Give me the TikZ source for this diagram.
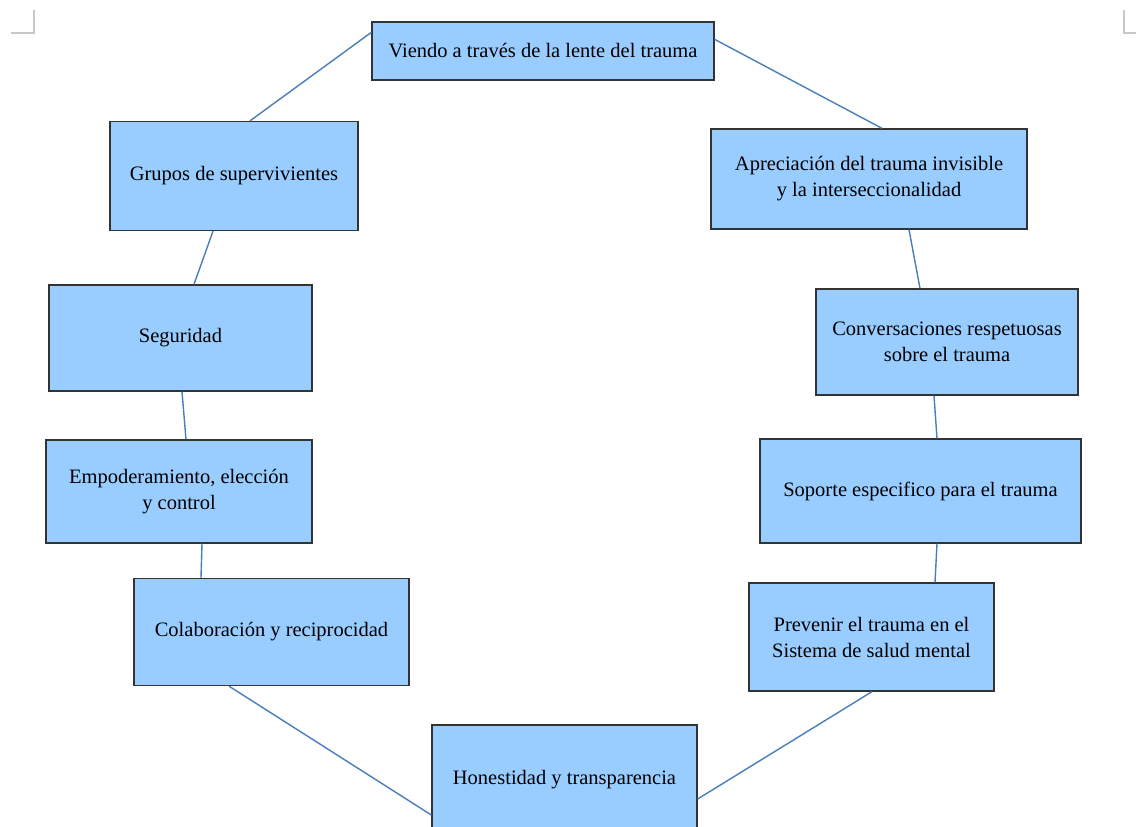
\documentclass[tikz,border=0pt]{standalone}
\usepackage{fontspec}
\setmainfont{Liberation Serif}
\usetikzlibrary{calc}
\definecolor{boxfill}{HTML}{99CCFF}
\definecolor{boxline}{HTML}{333333}
\definecolor{linkcol}{HTML}{4A7EBB}
\definecolor{markcol}{HTML}{C8C8C8}
\tikzset{
  box/.style={draw=boxline, fill=boxfill, line width=1.3pt, rectangle, align=center, inner sep=2pt,
    font=\fontsize{20.5}{26}\selectfont},
  link/.style={draw=linkcol, line width=1.4pt},
  cropmark/.style={draw=markcol, line width=1.2pt}
}
\begin{document}
\begin{tikzpicture}[x=1pt,y=-1pt]
\useasboundingbox (0,0) rectangle (1136,827);
\fill[white] (0,0) rectangle (1136,827);
% crop marks
\coordinate (tl1) at (11,33); \coordinate (tl2) at (34,33); \coordinate (tl3) at (34,10);
\draw[cropmark] (tl1) -- (tl2) -- (tl3);
\coordinate (tr1) at (1124,10); \coordinate (tr2) at (1124,33); \coordinate (tr3) at (1136,33);
\draw[cropmark] (tr1) -- (tr2) -- (tr3);
% boxes
\node[box, minimum width=342pt, minimum height=58pt] (viendo) at (543,51) {Viendo a través de la lente del trauma};
\node[box, minimum width=248pt, minimum height=109pt] (grupos) at (234,176) {Grupos de supervivientes};
\node[box, minimum width=316pt, minimum height=100pt] (apre) at (869,179) {Apreciación del trauma invisible\\y la interseccionalidad};
\node[box, minimum width=263pt, minimum height=106pt] (segu) at (180.5,338) {Seguridad};
\node[box, minimum width=262pt, minimum height=106pt] (conv) at (947,342) {Conversaciones respetuosas\\sobre el trauma};
\node[box, minimum width=266pt, minimum height=103pt] (empo) at (179,491.5) {Empoderamiento, elección\\y control};
\node[box, minimum width=321pt, minimum height=104pt] (sopo) at (920.5,491) {Soporte especifico para el trauma};
\node[box, minimum width=275pt, minimum height=107pt] (cola) at (271.5,632) {Colaboración y reciprocidad};
\node[box, minimum width=245pt, minimum height=108pt] (prev) at (871.5,637) {Prevenir el trauma en el\\Sistema de salud mental};
\node[box, minimum width=265pt, minimum height=110pt] (hone) at (564.5,780) {Honestidad y transparencia};
% connectors
\draw[link] ([yshift=-11pt]viendo.north west) -- ([xshift=16pt]grupos.north);
\draw[link] ([yshift=-18pt]viendo.north east) -- ([xshift=13pt]apre.north);
\draw[link] ([xshift=-21pt]grupos.south) -- ([xshift=13.5pt]segu.north);
\draw[link] ([xshift=40pt]apre.south) -- ([xshift=-27pt]conv.north);
\draw[link] ([xshift=1.5pt]segu.south) -- ([xshift=7pt]empo.north);
\draw[link] ([xshift=-13pt]conv.south) -- ([xshift=16.5pt]sopo.north);
\draw[link] ([xshift=23pt]empo.south) -- ([xshift=-70.5pt]cola.north);
\draw[link] ([xshift=16.5pt]sopo.south) -- ([xshift=63.5pt]prev.north);
\draw[link] ([xshift=-42.5pt]cola.south) -- ([yshift=-35pt]hone.west);
\draw[link] ([xshift=0.5pt]prev.south) -- ([yshift=-19pt]hone.east);
\end{tikzpicture}
\end{document}
